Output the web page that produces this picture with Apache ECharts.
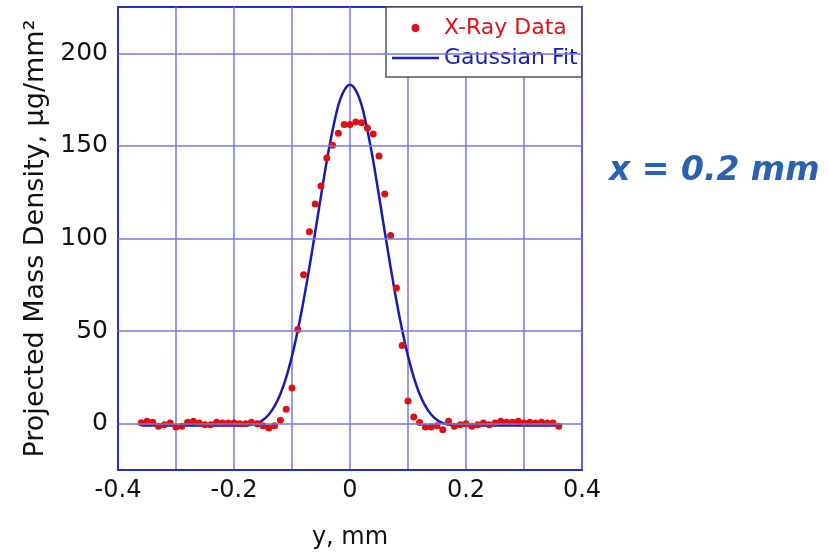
<!DOCTYPE html>
<html lang="en">

<head>
  <meta charset="utf-8">
  <title>Projected Mass Density</title>
  <script src="https://cdn.jsdelivr.net/npm/echarts@6/dist/echarts.min.js"></script>
  <style>
    body {
      margin: 0;
      background: white;
      overflow: hidden;
    }

    #chart {
      width: 829px;
      height: 553px;
    }
  </style>
</head>

<body>
  <div id="chart"></div>

  <script>
    // --- Data.

    // X-ray data points (y position in mm, density).
    const RAY_X = [
      -0.36, -0.35, -0.34, -0.33, -0.32, -0.31, -0.30, -0.29, -0.28, -0.27,
      -0.26, -0.25, -0.24, -0.23, -0.22, -0.21, -0.20, -0.19, -0.18, -0.17,
      -0.16, -0.15, -0.14, -0.13, -0.12, -0.11, -0.10, -0.09, -0.08, -0.07,
      -0.06, -0.05, -0.04, -0.03, -0.02, -0.01, 0.00, 0.01, 0.02, 0.03,
      0.04, 0.05, 0.06, 0.07, 0.08, 0.09, 0.10, 0.11, 0.12, 0.13,
      0.14, 0.15, 0.16, 0.17, 0.18, 0.19, 0.20, 0.21, 0.22, 0.23,
      0.24, 0.25, 0.26, 0.27, 0.28, 0.29, 0.30, 0.31, 0.32, 0.33,
      0.34, 0.35, 0.36
    ];
    const RAY_Y = [
      0.5, 1.3, 0.8, -1.4, -0.5, 0.4, -1.8, -1.4, 0.8, 1.3,
      0.4, -0.5, -0.5, 0.8, 0.4, 0.4, 0.4, 0.0, 0.0, 0.8,
      0.0, -1.1, -2.3, -1.1, 1.8, 7.8, 19.3, 50.8, 80.4, 103.6,
      118.6, 128.3, 143.4, 150.3, 156.8, 161.5, 161.5, 162.9, 162.5, 159.6,
      156.4, 144.5, 124.0, 101.6, 73.3, 42.2, 12.3, 3.6, 0.7, -1.8,
      -1.8, -1.1, -3.2, 1.3, -1.4, -0.5, 0.0, -1.4, -0.5, 0.4,
      -0.5, 0.4, 1.3, 0.8, 0.8, 1.3, 0.4, 0.8, 0.4, 0.8,
      0.4, 0.4, -1.4
    ];

    // Gaussian fit curve.
    const FIT_X = [
      -0.36, -0.20, -0.18, -0.17, -0.16, -0.15, -0.14, -0.13, -0.12, -0.11,
      -0.10, -0.09, -0.08, -0.07, -0.06, -0.05, -0.04, -0.03, -0.02, -0.01,
      0.00, 0.01, 0.02, 0.03, 0.04, 0.05, 0.06, 0.07, 0.08, 0.09,
      0.10, 0.11, 0.12, 0.13, 0.14, 0.15, 0.16, 0.17, 0.18, 0.20, 0.36
    ];
    const FIT_Y = [
      -1, -1, -1, -0.5, 0.3, 2, 5, 9.5, 16, 25,
      36.5, 50.5, 66.5, 84.5, 103.5, 123, 142, 158.5, 172, 180,
      183, 180, 172, 158.5, 142, 123, 103.5, 84.5, 66.5, 50.5,
      36.5, 25, 16, 9.5, 5, 2, 0.3, -0.5, -1, -1, -1
    ];

    // Horizontal grid lines (the y labels sit on these).
    const Y_GRID = [0, 50, 100, 150, 200];

    const FONT = 'DejaVu Sans';
    const FRAME = '#2b2bcc';
    const GRID = '#7474e4';
    const RED = '#dd1111';
    const BLUE = '#1a1ab0';

    const chart = echarts.init(document.getElementById('chart'));

    chart.setOption({
      animation: false,
      grid: {
        left: 118, right: 247, top: 7, bottom: 83,
        // Keep the plot box where it is, labels may hang outside.
        outerBoundsMode: 'none',
        show: true,
        borderColor: FRAME,
        borderWidth: 2,
        backgroundColor: '#fff'
      },
      legend: {
        left: 386, top: 7,
        orient: 'vertical',
        selectedMode: false,
        backgroundColor: '#fff',
        borderColor: '#555',
        borderWidth: 1.5,
        borderRadius: 0,
        padding: [10, 4, 8, 6],
        itemGap: 8,
        itemWidth: 47,
        itemHeight: 8,
        data: [
          { name: 'X-Ray Data', icon: 'circle', textStyle: { color: RED } },
          // Flat bar so the fit shows as a plain line.
          { name: 'Gaussian Fit', icon: 'path://M0,0H47V2.5H0Z', textStyle: { color: BLUE } }
        ],
        textStyle: { fontFamily: FONT, fontSize: 22 }
      },
      xAxis: {
        type: 'value',
        min: -0.4, max: 0.4, interval: 0.1,
        name: 'y, mm',
        nameLocation: 'middle',
        nameGap: 56,
        nameTextStyle: { fontFamily: FONT, fontSize: 24, color: '#111' },
        axisLine: { show: true, onZero: false, lineStyle: { color: FRAME, width: 2 } },
        axisTick: { show: false },
        splitLine: { show: true, lineStyle: { color: GRID, width: 1.5 } },
        axisLabel: {
          showMinLabel: true, showMaxLabel: true,
          margin: 9,
          fontFamily: FONT, fontSize: 24, color: '#111',
          formatter: v => {
            const t = Math.round(v * 10);
            return t % 2 === 0 ? String(t / 10) : '';
          }
        }
      },
      yAxis: {
        type: 'value',
        min: -25, max: 225, interval: 25,
        name: 'Projected Mass Density, μg/mm²',
        nameLocation: 'middle',
        nameGap: 68,
        nameTextStyle: { fontFamily: FONT, fontSize: 27, color: '#111' },
        axisLine: { show: true, onZero: false, lineStyle: { color: FRAME, width: 2 } },
        axisTick: { show: false },
        splitLine: { show: false },
        axisLabel: {
          margin: 10,
          fontFamily: FONT, fontSize: 25, color: '#111',
          formatter: v => (v % 50 === 0 ? String(v) : '')
        }
      },
      graphic: [{
        type: 'text',
        left: 609, top: 155,
        style: {
          text: 'x = 0.2 mm',
          fontFamily: FONT,
          fontSize: 33,
          fontWeight: 'bold',
          fontStyle: 'italic',
          fill: '#2a62b0'
        }
      }],
      series: [
        {
          // Only here to draw the horizontal grid lines.
          type: 'line',
          data: [],
          silent: true,
          z: 1,
          markLine: {
            silent: true,
            symbol: 'none',
            label: { show: false },
            lineStyle: { color: GRID, width: 1.5, type: 'solid' },
            data: Y_GRID.map(v => ({ yAxis: v }))
          }
        },
        {
          name: 'Gaussian Fit',
          type: 'line',
          z: 3,
          data: FIT_X.map((x, i) => [x, FIT_Y[i]]),
          symbol: 'none',
          smooth: 0.3,
          lineStyle: { color: BLUE, width: 2.5 },
          itemStyle: { color: BLUE }
        },
        {
          name: 'X-Ray Data',
          type: 'scatter',
          z: 4,
          data: RAY_X.map((x, i) => [x, RAY_Y[i]]),
          symbolSize: 7,
          itemStyle: { color: RED, opacity: 1 }
        }
      ]
    });
  </script>
</body>

</html>
